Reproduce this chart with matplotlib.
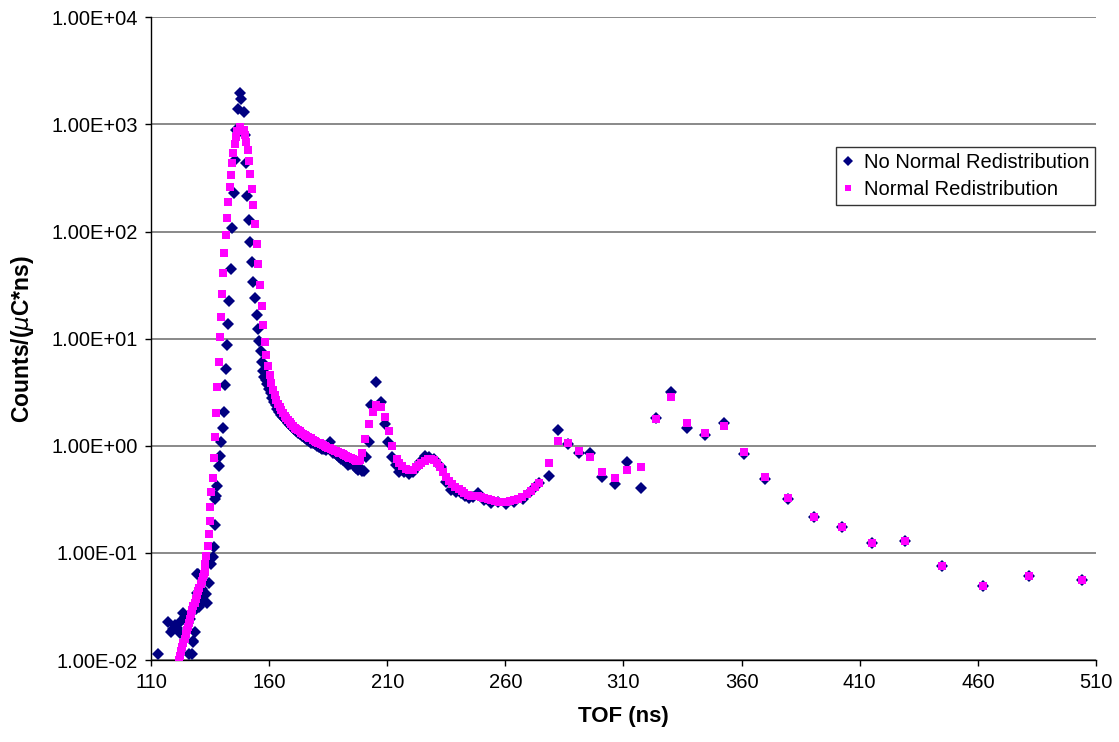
import matplotlib
matplotlib.use("Agg")
import matplotlib.pyplot as plt
from matplotlib.ticker import FixedLocator, FuncFormatter, NullLocator

plt.rcParams['font.family'] = ['Liberation Sans', 'DejaVu Sans']
plt.rcParams['mathtext.fontset'] = 'custom'
plt.rcParams['mathtext.it'] = 'DejaVu Sans:italic'

# ---------------- data ----------------
# Series 1: No Normal Redistribution (navy diamonds)
tof_no = [
    113.1, 117.3, 118.5, 119.5, 120.1, 121.1, 122.3, 122.8, 123.4, 124.5, 125.5, 126.0, 126.5,
    127.2, 127.6, 127.9, 128.6, 129.0, 129.3, 129.6, 130.0, 130.4, 130.7, 131.0, 131.4, 132.0,
    133.4, 133.8, 134.6, 135.6, 136.1, 136.6, 136.9, 137.2, 137.5, 138.0, 138.7, 139.2, 139.6,
    140.3, 140.8, 141.3, 141.7, 142.2, 142.7, 143.1, 143.8, 144.5, 145.1, 145.6, 146.1, 146.7,
    147.6, 148.3, 149.2, 149.8, 150.3, 150.8, 151.4, 152.0, 152.7, 153.4, 154.1, 154.7, 155.3,
    155.9, 156.4, 156.9, 157.5, 158.0, 158.6, 159.3, 160.0, 160.7, 161.4, 162.1, 162.8, 163.5,
    164.2, 165.0, 165.8, 166.6, 167.4, 168.2, 169.0, 169.8, 170.6, 171.4, 172.2, 173.0, 173.8,
    174.6, 175.4, 176.2, 177.0, 177.8, 178.6, 179.4, 180.2, 181.0, 181.8, 182.6, 183.4, 184.2,
    185.0, 185.6, 186.4, 187.2, 188.0, 188.8, 189.6, 190.4, 191.2, 192.0, 192.8, 193.6, 194.4,
    195.2, 196.0, 196.8, 197.6, 198.4, 199.2, 200.0, 201.1, 202.5, 203.2, 205.4, 207.2, 208.9,
    210.3, 212.1, 213.8, 215.2, 217.2, 219.4, 221.0, 222.3, 224.0, 225.8, 227.8, 230.0, 232.8,
    234.9, 237.1, 239.2, 241.3, 243.0, 244.8, 246.5, 248.3, 251.0, 254.0, 257.0, 260.3, 263.5,
    267.3, 270.9, 274.4, 278.3, 282.5, 286.7, 291.3, 295.9, 301.1, 306.5, 311.7, 317.6, 323.7,
    330.3, 337.0, 344.5, 352.5, 361.0, 370.1, 379.7, 390.6, 402.3, 415.0, 429.0, 444.8, 462.1,
    481.8, 504.2,
]
counts_no = [
    0.0115, 0.0227, 0.0183, 0.0195, 0.0212, 0.0197, 0.0177, 0.0230, 0.0276, 0.0250, 0.0220, 0.0115, 0.0240,
    0.0115, 0.0148, 0.0150, 0.0183, 0.0300, 0.0424, 0.0634, 0.0630, 0.0310, 0.0326, 0.0370, 0.0460, 0.0400,
    0.0410, 0.0342, 0.0526, 0.0785, 0.0920, 0.1125, 0.182, 0.316, 0.339, 0.420, 0.65, 0.80, 1.08,
    1.45, 2.08, 3.69, 5.2, 8.65, 13.8, 22.6, 45.0, 107.0, 230.0, 465.0, 887.0, 1383.0,
    1950.0, 1714.0, 1314.0, 796.0, 433.0, 214.0, 128.0, 79.0, 52.0, 34.0, 23.8, 16.5, 12.2,
    9.6, 7.6, 6.0, 5.0, 4.4, 4.1, 3.75, 3.4, 3.1, 2.8, 2.55, 2.38, 2.2,
    2.08, 1.95, 1.85, 1.78, 1.70, 1.64, 1.56, 1.50, 1.44, 1.38, 1.33, 1.28, 1.24,
    1.20, 1.17, 1.14, 1.10, 1.07, 1.06, 1.03, 1.00, 0.98, 0.96, 0.93, 0.94, 0.92,
    1.02, 1.09, 0.92, 0.85, 0.86, 0.82, 0.78, 0.76, 0.73, 0.72, 0.70, 0.66, 0.68,
    0.70, 0.68, 0.62, 0.60, 0.62, 0.58, 0.58, 0.79, 1.09, 2.40, 3.96, 2.58, 1.60,
    1.09, 0.79, 0.66, 0.57, 0.565, 0.55, 0.57, 0.615, 0.70, 0.81, 0.78, 0.76, 0.63,
    0.46, 0.39, 0.37, 0.36, 0.34, 0.323, 0.33, 0.364, 0.31, 0.294, 0.30, 0.286, 0.30,
    0.316, 0.38, 0.45, 0.52, 1.40, 1.03, 0.86, 0.86, 0.514, 0.436, 0.71, 0.40, 1.80,
    3.19, 1.45, 1.26, 1.64, 0.835, 0.485, 0.318, 0.214, 0.173, 0.123, 0.129, 0.0754, 0.049,
    0.0607, 0.0553,
]

# Series 2: Normal Redistribution (magenta squares)
tof_nr = [
    121.8, 122.3, 122.8, 123.3, 123.7, 124.2, 124.7, 125.1, 125.5, 126.0, 126.5, 127.0, 127.5,
    128.0, 128.5, 129.0, 129.5, 130.0, 130.5, 131.0, 131.5, 132.1, 132.5, 132.8, 132.9, 133.5,
    134.0, 134.4, 134.9, 135.2, 135.6, 136.1, 136.6, 137.2, 137.5, 138.0, 138.6, 139.2, 139.6,
    140.1, 140.7, 141.1, 141.7, 142.2, 142.7, 143.3, 143.8, 144.5, 144.9, 145.5, 145.9, 146.6,
    147.9, 149.3, 150.0, 150.4, 150.9, 151.4, 152.1, 152.8, 153.4, 154.1, 154.8, 155.3, 156.1,
    156.9, 157.5, 158.2, 158.9, 159.6, 160.3, 161.0, 161.7, 162.4, 163.1, 163.8, 164.5, 165.2,
    165.9, 166.6, 167.3, 168.0, 168.7, 169.4, 170.1, 170.8, 171.5, 172.2, 172.9, 173.6, 174.3,
    175.0, 175.7, 176.4, 177.1, 177.9, 178.6, 179.3, 180.0, 180.7, 181.4, 182.1, 182.8, 183.5,
    184.2, 184.9, 185.6, 186.3, 187.0, 187.7, 188.4, 189.1, 189.8, 190.5, 191.2, 191.9, 192.6,
    193.3, 194.0, 194.8, 195.5, 196.2, 196.9, 197.6, 198.4, 199.4, 200.8, 202.2, 203.9, 205.4,
    207.2, 208.9, 210.6, 212.1, 214.1, 215.2, 216.3, 217.8, 219.4, 220.8, 222.3, 223.4, 224.4,
    225.8, 227.1, 228.5, 230.0, 231.2, 232.4, 233.6, 234.9, 236.2, 237.5, 238.9, 240.3, 241.5,
    242.7, 244.1, 245.5, 246.9, 248.3, 249.7, 251.1, 252.6, 254.0, 255.6, 257.2, 258.8, 260.3,
    262.0, 263.8, 265.5, 267.1, 269.0, 270.9, 272.6, 274.4, 278.3, 282.5, 286.5, 291.3, 295.9,
    301.1, 306.5, 311.7, 317.6, 323.7, 330.3, 337.0, 344.5, 352.5, 361.0, 370.1, 379.7, 390.6,
    402.3, 415.0, 429.0, 444.8, 462.1, 481.8, 504.2,
]
counts_nr = [
    0.0100, 0.0110, 0.0121, 0.0132, 0.0143, 0.0158, 0.0174, 0.0189, 0.0204, 0.0223, 0.0244, 0.0267, 0.0292,
    0.0318, 0.0344, 0.0373, 0.0406, 0.0439, 0.0472, 0.0508, 0.0547, 0.0598, 0.0637, 0.0667, 0.0785, 0.094,
    0.116, 0.150, 0.198, 0.269, 0.372, 0.502, 0.762, 1.21, 2.03, 3.56, 6.05, 10.3, 16.0,
    26.1, 41.0, 62.5, 92.7, 134.5, 188.0, 259.0, 339.0, 439.0, 544.0, 656.0, 768.0, 873.0,
    952.0, 886.0, 796.0, 689.0, 577.0, 458.0, 347.0, 251.0, 176.0, 118.0, 77.0, 49.4, 31.6,
    20.3, 13.5, 9.35, 7.03, 5.55, 4.57, 3.87, 3.31, 2.95, 2.67, 2.45, 2.28, 2.15,
    2.02, 1.91, 1.82, 1.74, 1.66, 1.59, 1.53, 1.48, 1.43, 1.40, 1.36, 1.32, 1.29,
    1.26, 1.23, 1.21, 1.19, 1.17, 1.14, 1.11, 1.09, 1.07, 1.05, 1.03, 1.015, 1.00,
    0.98, 0.96, 0.945, 0.93, 0.912, 0.90, 0.89, 0.88, 0.865, 0.85, 0.83, 0.82, 0.80,
    0.79, 0.775, 0.762, 0.745, 0.736, 0.724, 0.72, 0.735, 0.86, 1.15, 1.60, 2.08, 2.40,
    2.29, 1.87, 1.37, 0.995, 0.747, 0.69, 0.646, 0.61, 0.593, 0.60, 0.637, 0.66, 0.69,
    0.72, 0.745, 0.745, 0.735, 0.69, 0.628, 0.57, 0.514, 0.47, 0.439, 0.41, 0.391, 0.375,
    0.36, 0.35, 0.339, 0.337, 0.339, 0.33, 0.323, 0.317, 0.311, 0.305, 0.30, 0.30, 0.30,
    0.305, 0.311, 0.32, 0.334, 0.355, 0.38, 0.41, 0.446, 0.693, 1.11, 1.07, 0.90, 0.79,
    0.57, 0.497, 0.60, 0.63, 1.76, 2.83, 1.64, 1.32, 1.54, 0.88, 0.507, 0.325, 0.216,
    0.175, 0.124, 0.128, 0.0756, 0.0495, 0.061, 0.0556,
]

series_names = ["No Normal Redistribution", "Normal Redistribution"]
x_ticks = [110, 160, 210, 260, 310, 360, 410, 460, 510]
y_ticks = [1e-2, 1e-1, 1e0, 1e1, 1e2, 1e3, 1e4]

# ---------------- figure ----------------
fig = plt.figure(figsize=(11.19, 7.42), dpi=100)
ax = fig.add_axes([0.1349, 0.1105, 0.8445, 0.8662])

ax.plot(tof_no, counts_no, linestyle='none', marker='D', markersize=6.6,
        color='#000080', markeredgewidth=0, label=series_names[0], zorder=3)
ax.plot(tof_nr, counts_nr, linestyle='none', marker='s', markersize=5.2,
        color='#FF00FF', markeredgewidth=0, label=series_names[1], zorder=4)

ax.set_yscale('log')
ax.set_xlim(110, 510)
ax.set_ylim(1e-2, 1e4)

ax.xaxis.set_major_locator(FixedLocator(x_ticks))
ax.xaxis.set_minor_locator(NullLocator())
ax.yaxis.set_major_locator(FixedLocator(y_ticks))
ax.yaxis.set_minor_locator(NullLocator())
ax.yaxis.set_major_formatter(FuncFormatter(lambda v, p: f"{v:.2E}"))
ax.xaxis.set_major_formatter(FuncFormatter(lambda v, p: f"{int(round(v))}"))

ax.grid(axis='y', which='major', color='#808080', linewidth=1.3, zorder=0)
ax.set_axisbelow(True)

for s in ['top', 'right']:
    ax.spines[s].set_visible(False)
for s in ['left', 'bottom']:
    ax.spines[s].set_color('black')
    ax.spines[s].set_linewidth(1.0)

ax.tick_params(axis='both', direction='out', length=4.5, width=1.0, colors='black',
               labelsize=14.5, pad=5)

ax.set_xlabel('TOF (ns)', fontsize=16, fontweight='bold', labelpad=10)
ax.set_ylabel(r'Counts/($\mathit{\mu}$C*ns)', fontsize=16.5, fontweight='bold', labelpad=11)

leg = ax.legend(loc='upper right', bbox_to_anchor=(0.9995, 0.798), frameon=True,
                fancybox=False, edgecolor='black', fontsize=14.5, borderpad=0.3,
                handlelength=0.6, handletextpad=0.5, labelspacing=0.4, markerscale=0.7,
                borderaxespad=0)
leg.get_frame().set_linewidth(1.0)

fig.savefig('out.png', dpi=100)
